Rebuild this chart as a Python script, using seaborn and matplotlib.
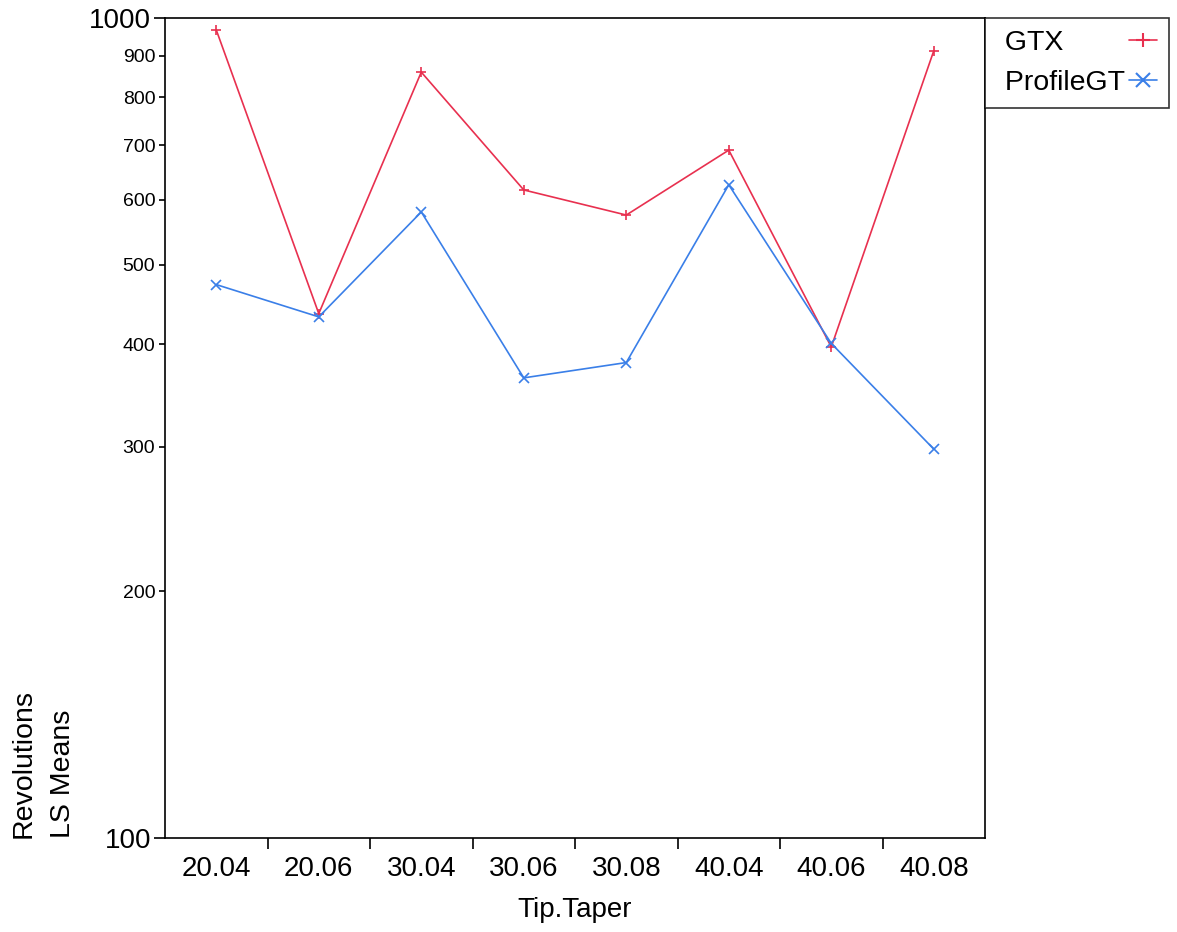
import pandas as pd
import matplotlib
matplotlib.use("Agg")
import matplotlib.pyplot as plt
import matplotlib.ticker as mticker
from matplotlib.lines import Line2D
import seaborn as sns

# ------------------------
# Data
# ------------------------
tip_taper = ["20.04", "20.06", "30.04", "30.06", "30.08", "40.04", "40.06", "40.08"]
gtx = [967, 436, 859, 617, 575, 690, 397, 912]
profile_gt = [473, 432, 580, 364, 380, 626, 401, 298]

series_names = ["GTX", "ProfileGT"]
colors = ["#E8304F", "#3A7FE8"]
marker_list = ["+", "x"]

df = pd.DataFrame({
    "Tip.Taper": tip_taper * 2,
    "LS Means": gtx + profile_gt,
    "File": [series_names[0]] * len(gtx) + [series_names[1]] * len(profile_gt),
})

# ------------------------
# Plot
# ------------------------
sns.set_style("white")
plt.rcParams["font.family"] = ["Liberation Sans", "DejaVu Sans"]
plt.rcParams["text.color"] = "black"
plt.rcParams["axes.labelcolor"] = "black"
plt.rcParams["xtick.color"] = "black"
plt.rcParams["ytick.color"] = "black"

fig = plt.figure(figsize=(11.77, 9.32), dpi=100)
ax = fig.add_axes([0.1402, 0.1009, 0.6967, 0.8798])

sns.pointplot(
    data=df, x="Tip.Taper", y="LS Means", hue="File",
    order=tip_taper, hue_order=series_names,
    palette=colors, markers=marker_list, linestyles=["-", "-"],
    errorbar=None, linewidth=1.2, markersize=6.5, markeredgewidth=1.2,
    ax=ax,
)
ax.get_legend().remove()

ax.set_yscale("log")
ax.set_ylim(100, 1000)
ax.set_xlim(-0.5, len(tip_taper) - 0.5)

# y ticks: 100 / 1000 large, 200..900 small
ax.yaxis.set_major_locator(mticker.FixedLocator([100, 1000]))
ax.yaxis.set_major_formatter(mticker.FixedFormatter(["100", "1000"]))
ax.yaxis.set_minor_locator(mticker.FixedLocator([200, 300, 400, 500, 600, 700, 800, 900]))
ax.yaxis.set_minor_formatter(mticker.FixedFormatter(["200", "300", "400", "500", "600", "700", "800", "900"]))
ax.tick_params(axis="y", which="major", direction="out", length=8, width=1.2,
               labelsize=20, left=True, pad=2)
ax.tick_params(axis="y", which="minor", direction="out", length=4, width=1.2,
               labelsize=14, left=True, pad=3)

# x ticks between categories, labels at centres
ax.set_xticks(range(len(tip_taper)))
ax.set_xticklabels(tip_taper)
ax.set_xticks([i + 0.5 for i in range(len(tip_taper) - 1)], minor=True)
ax.tick_params(axis="x", which="major", length=0, labelsize=20, pad=13)
ax.tick_params(axis="x", which="minor", direction="out", length=8, width=1.2, bottom=True)

ax.set_xlabel("Tip.Taper", fontsize=20, labelpad=11)
ax.set_ylabel("")
fig.text(0.009, 0.1009, "Revolutions\nLS Means", rotation=90, fontsize=20.5,
         ha="left", va="bottom", multialignment="left", linespacing=1.65)

for spine in ax.spines.values():
    spine.set_color("black")
    spine.set_linewidth(1.2)

# ------------------------
# Legend
# ------------------------
handles = [
    Line2D([], [], color=c, marker=m, markersize=10, markeredgewidth=1.5, linewidth=1.2)
    for c, m in zip(colors, marker_list)
]
leg = ax.legend(handles, [" " + s for s in series_names], loc="upper left",
                bbox_to_anchor=(1.0, 1.0),
                markerfirst=False, frameon=True, fancybox=False, fontsize=20.5,
                handlelength=1.0, handletextpad=0.1, borderaxespad=0,
                borderpad=0.42, labelspacing=0.48)
leg.get_frame().set_edgecolor("black")
leg.get_frame().set_linewidth(1.2)

# left-align labels while keeping the markers in one column
fig.canvas.draw()
renderer = fig.canvas.get_renderer()
widths = [t.get_window_extent(renderer).width for t in leg.get_texts()]
base_sep = 0.1 * 20.5 * 100 / 72
rows = leg._legend_handle_box.get_children()[0].get_children()
for row, w in zip(rows, widths):
    row.sep = base_sep + (max(widths) - w) * 72 / 100

fig.savefig("out.png", dpi=100)
plt.close()
